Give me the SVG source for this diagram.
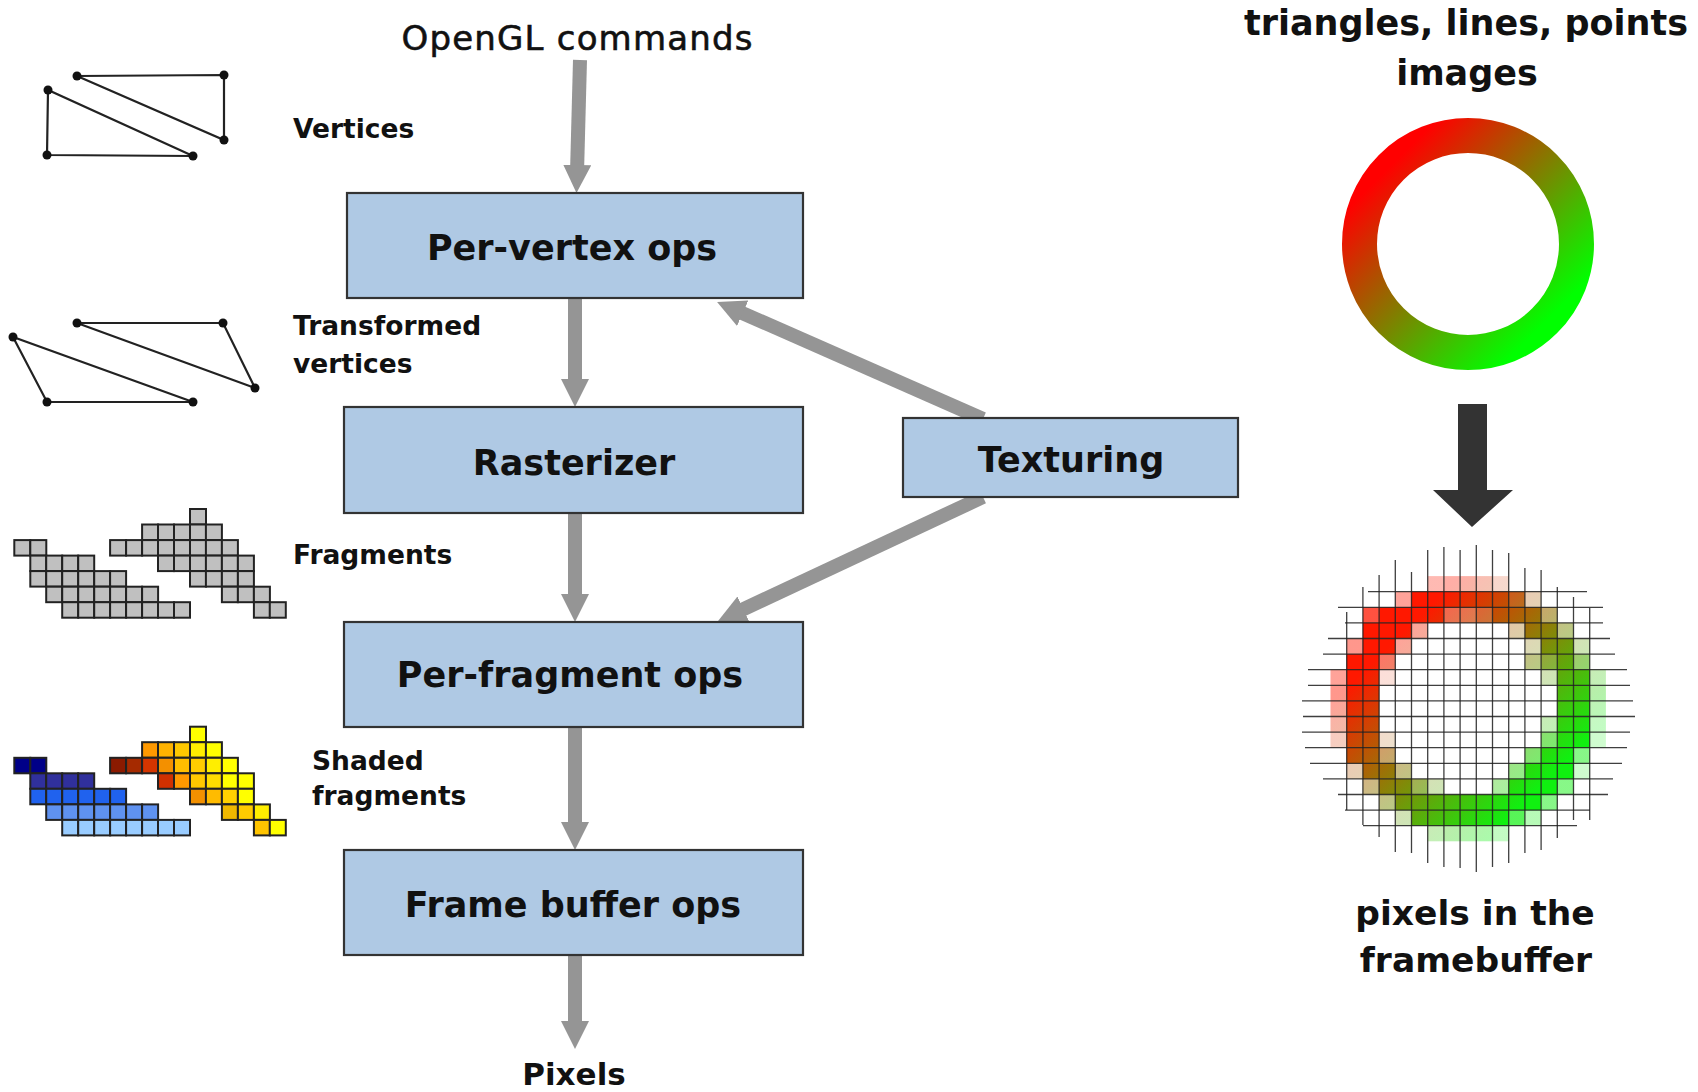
<svg xmlns="http://www.w3.org/2000/svg" xmlns:xlink="http://www.w3.org/1999/xlink" width="1698" height="1092" viewBox="0 0 1698 1092">
  <style>
    .box { fill: #afc9e4; stroke: #333333; stroke-width: 2.2; }
    .lbl { font-family: "DejaVu Sans", "Liberation Sans", sans-serif; font-weight: bold; font-size: 35px; fill: #111111; text-anchor: middle; }
    .side { font-family: "DejaVu Sans", "Liberation Sans", sans-serif; font-weight: bold; font-size: 26.5px; fill: #111111; }
    .title { font-family: "DejaVu Sans", "Liberation Sans", sans-serif; font-size: 34px; fill: #111111; stroke: #111111; stroke-width: 0.6; text-anchor: middle; }
    .flow { stroke: #959595; stroke-width: 14; fill: none; marker-end: url(#head); }
    .wire { stroke: #222222; stroke-width: 2.2; fill: none; }
    .dot { fill: #111111; }
    .frag { stroke: #222222; stroke-width: 2; }
    .grid line { stroke: #1e1e1e; stroke-width: 1.3; opacity: 0.85; }
  </style>
  <defs>
    <marker id="head" markerUnits="userSpaceOnUse" viewBox="0 0 28 28" markerWidth="28" markerHeight="28" refX="1" refY="14" orient="auto">
      <path d="M0,0 L28,14 L0,28 Z" fill="#959595"/>
    </marker>
    <linearGradient id="ringGrad" gradientUnits="userSpaceOnUse" x1="1390" y1="166" x2="1546" y2="322">
      <stop offset="0" stop-color="#ff0000"/>
      <stop offset="1" stop-color="#00ff00"/>
    </linearGradient>
    <linearGradient id="pxGrad" gradientUnits="userSpaceOnUse" x1="1400" y1="635" x2="1545" y2="782">
      <stop offset="0" stop-color="#ff1800"/>
      <stop offset="1" stop-color="#10f010"/>
    </linearGradient>
    <rect id="fc" width="16" height="15.5" class="frag"/>
  </defs>

  <rect width="1698" height="1092" fill="#ffffff"/>

  <!-- pipeline connectors -->
  <g id="connectors">
    <line class="flow" x1="580" y1="60" x2="577.2" y2="166"/>
    <line class="flow" x1="575" y1="298" x2="575" y2="380"/>
    <line class="flow" x1="575" y1="513" x2="575" y2="595"/>
    <line class="flow" x1="575" y1="727" x2="575" y2="823"/>
    <line class="flow" x1="575" y1="955" x2="575" y2="1022"/>
    <line class="flow" x1="983" y1="419" x2="741.8" y2="312.8"/>
    <line class="flow" x1="983" y1="497" x2="742.5" y2="609.6"/>
  </g>

  <!-- pipeline stages -->
  <g id="per-vertex">
    <rect class="box" x="347" y="193" width="456" height="105"/>
    <text class="lbl" x="572" y="260">Per-vertex ops</text>
  </g>
  <g id="rasterizer">
    <rect class="box" x="344" y="407" width="459" height="106"/>
    <text class="lbl" x="574" y="475">Rasterizer</text>
  </g>
  <g id="texturing">
    <rect class="box" x="903" y="418" width="335" height="79"/>
    <text class="lbl" x="1071" y="472">Texturing</text>
  </g>
  <g id="per-fragment">
    <rect class="box" x="344" y="622" width="459" height="105"/>
    <text class="lbl" x="570" y="687">Per-fragment ops</text>
  </g>
  <g id="frame-buffer">
    <rect class="box" x="344" y="850" width="459" height="105"/>
    <text class="lbl" x="573" y="917">Frame buffer ops</text>
  </g>

  <g id="input-label">
    <text class="title" x="577" y="50" textLength="351">OpenGL commands</text>
  </g>
  <g id="output-label">
    <text class="lbl" x="574" y="1085" style="font-size:31px">Pixels</text>
  </g>

  <!-- vertices -->
  <g id="vertices">
    <path class="wire" d="M77,76 L224,75 L224,140 Z M48,90 L47,155 L193,156 Z"/>
    <circle class="dot" cx="77" cy="76" r="4.5"/>
    <circle class="dot" cx="224" cy="75" r="4.5"/>
    <circle class="dot" cx="224" cy="140" r="4.5"/>
    <circle class="dot" cx="48" cy="90" r="4.5"/>
    <circle class="dot" cx="47" cy="155" r="4.5"/>
    <circle class="dot" cx="193" cy="156" r="4.5"/>
    <text class="side" x="293" y="138">Vertices</text>
  </g>

  <!-- transformed vertices -->
  <g id="transformed-vertices">
    <path class="wire" d="M77,323 L223,323 L255,388 Z M13,337 L47,402 L193,402 Z"/>
    <circle class="dot" cx="77" cy="323" r="4.5"/>
    <circle class="dot" cx="223" cy="323" r="4.5"/>
    <circle class="dot" cx="255" cy="388" r="4.5"/>
    <circle class="dot" cx="13" cy="337" r="4.5"/>
    <circle class="dot" cx="47" cy="402" r="4.5"/>
    <circle class="dot" cx="193" cy="402" r="4.5"/>
    <text class="side" x="293" y="335">Transformed</text>
    <text class="side" x="293" y="373">vertices</text>
  </g>

  <!-- fragments -->
  <g id="fragments" fill="#c0c0c0">
    <use xlink:href="#fc" x="190.0" y="509.0"/>
    <use xlink:href="#fc" x="142.1" y="524.5"/><use xlink:href="#fc" x="158.0" y="524.5"/><use xlink:href="#fc" x="174.0" y="524.5"/><use xlink:href="#fc" x="190.0" y="524.5"/><use xlink:href="#fc" x="205.9" y="524.5"/>
    <use xlink:href="#fc" x="14.3" y="540.1"/><use xlink:href="#fc" x="30.3" y="540.1"/>
    <use xlink:href="#fc" x="110.1" y="540.1"/><use xlink:href="#fc" x="126.1" y="540.1"/><use xlink:href="#fc" x="142.1" y="540.1"/><use xlink:href="#fc" x="158.0" y="540.1"/><use xlink:href="#fc" x="174.0" y="540.1"/><use xlink:href="#fc" x="190.0" y="540.1"/><use xlink:href="#fc" x="205.9" y="540.1"/><use xlink:href="#fc" x="221.9" y="540.1"/>
    <use xlink:href="#fc" x="30.3" y="555.6"/><use xlink:href="#fc" x="46.2" y="555.6"/><use xlink:href="#fc" x="62.2" y="555.6"/><use xlink:href="#fc" x="78.2" y="555.6"/>
    <use xlink:href="#fc" x="158.0" y="555.6"/><use xlink:href="#fc" x="174.0" y="555.6"/><use xlink:href="#fc" x="190.0" y="555.6"/><use xlink:href="#fc" x="205.9" y="555.6"/><use xlink:href="#fc" x="221.9" y="555.6"/><use xlink:href="#fc" x="237.9" y="555.6"/>
    <use xlink:href="#fc" x="30.3" y="571.1"/><use xlink:href="#fc" x="46.2" y="571.1"/><use xlink:href="#fc" x="62.2" y="571.1"/><use xlink:href="#fc" x="78.2" y="571.1"/><use xlink:href="#fc" x="94.2" y="571.1"/><use xlink:href="#fc" x="110.1" y="571.1"/>
    <use xlink:href="#fc" x="190.0" y="571.1"/><use xlink:href="#fc" x="205.9" y="571.1"/><use xlink:href="#fc" x="221.9" y="571.1"/><use xlink:href="#fc" x="237.9" y="571.1"/>
    <use xlink:href="#fc" x="46.2" y="586.7"/><use xlink:href="#fc" x="62.2" y="586.7"/><use xlink:href="#fc" x="78.2" y="586.7"/><use xlink:href="#fc" x="94.2" y="586.7"/><use xlink:href="#fc" x="110.1" y="586.7"/><use xlink:href="#fc" x="126.1" y="586.7"/><use xlink:href="#fc" x="142.1" y="586.7"/>
    <use xlink:href="#fc" x="221.9" y="586.7"/><use xlink:href="#fc" x="237.9" y="586.7"/><use xlink:href="#fc" x="253.9" y="586.7"/>
    <use xlink:href="#fc" x="62.2" y="602.2"/><use xlink:href="#fc" x="78.2" y="602.2"/><use xlink:href="#fc" x="94.2" y="602.2"/><use xlink:href="#fc" x="110.1" y="602.2"/><use xlink:href="#fc" x="126.1" y="602.2"/><use xlink:href="#fc" x="142.1" y="602.2"/><use xlink:href="#fc" x="158.0" y="602.2"/><use xlink:href="#fc" x="174.0" y="602.2"/>
    <use xlink:href="#fc" x="253.9" y="602.2"/><use xlink:href="#fc" x="269.8" y="602.2"/>
    <text class="side" x="293" y="564" fill="#111111">Fragments</text>
  </g>

  <!-- shaded fragments -->
  <g id="shaded-fragments">
    <use xlink:href="#fc" x="190.0" y="726.7" fill="#ffff00"/>
    <use xlink:href="#fc" x="142.1" y="742.2" fill="#ff9900"/><use xlink:href="#fc" x="158.0" y="742.2" fill="#ffb300"/><use xlink:href="#fc" x="174.0" y="742.2" fill="#ffc800"/><use xlink:href="#fc" x="190.0" y="742.2" fill="#ffee00"/><use xlink:href="#fc" x="205.9" y="742.2" fill="#ffff00"/>
    <use xlink:href="#fc" x="14.3" y="757.8" fill="#000088"/><use xlink:href="#fc" x="30.3" y="757.8" fill="#000088"/>
    <use xlink:href="#fc" x="110.1" y="757.8" fill="#8b1a00"/><use xlink:href="#fc" x="126.1" y="757.8" fill="#a52a00"/><use xlink:href="#fc" x="142.1" y="757.8" fill="#d43500"/><use xlink:href="#fc" x="158.0" y="757.8" fill="#f39000"/><use xlink:href="#fc" x="174.0" y="757.8" fill="#ffbe00"/><use xlink:href="#fc" x="190.0" y="757.8" fill="#ffcc00"/><use xlink:href="#fc" x="205.9" y="757.8" fill="#ffee00"/><use xlink:href="#fc" x="221.9" y="757.8" fill="#ffff00"/>
    <use xlink:href="#fc" x="30.3" y="773.3" fill="#30309c"/><use xlink:href="#fc" x="46.2" y="773.3" fill="#30309c"/><use xlink:href="#fc" x="62.2" y="773.3" fill="#30309c"/><use xlink:href="#fc" x="78.2" y="773.3" fill="#30309c"/>
    <use xlink:href="#fc" x="158.0" y="773.3" fill="#d03000"/><use xlink:href="#fc" x="174.0" y="773.3" fill="#ff9900"/><use xlink:href="#fc" x="190.0" y="773.3" fill="#ffc800"/><use xlink:href="#fc" x="205.9" y="773.3" fill="#ffdd00"/><use xlink:href="#fc" x="221.9" y="773.3" fill="#ffff00"/><use xlink:href="#fc" x="237.9" y="773.3" fill="#ffff00"/>
    <use xlink:href="#fc" x="30.3" y="788.8" fill="#2062ee"/><use xlink:href="#fc" x="46.2" y="788.8" fill="#2062ee"/><use xlink:href="#fc" x="62.2" y="788.8" fill="#2062ee"/><use xlink:href="#fc" x="78.2" y="788.8" fill="#2062ee"/><use xlink:href="#fc" x="94.2" y="788.8" fill="#2062ee"/><use xlink:href="#fc" x="110.1" y="788.8" fill="#2062ee"/>
    <use xlink:href="#fc" x="190.0" y="788.8" fill="#f29000"/><use xlink:href="#fc" x="205.9" y="788.8" fill="#ffbb00"/><use xlink:href="#fc" x="221.9" y="788.8" fill="#ffd000"/><use xlink:href="#fc" x="237.9" y="788.8" fill="#ffff00"/>
    <use xlink:href="#fc" x="46.2" y="804.4" fill="#5f92f0"/><use xlink:href="#fc" x="62.2" y="804.4" fill="#5f92f0"/><use xlink:href="#fc" x="78.2" y="804.4" fill="#5f92f0"/><use xlink:href="#fc" x="94.2" y="804.4" fill="#5f92f0"/><use xlink:href="#fc" x="110.1" y="804.4" fill="#5f92f0"/><use xlink:href="#fc" x="126.1" y="804.4" fill="#5f92f0"/><use xlink:href="#fc" x="142.1" y="804.4" fill="#5f92f0"/>
    <use xlink:href="#fc" x="221.9" y="804.4" fill="#f0b800"/><use xlink:href="#fc" x="237.9" y="804.4" fill="#ffcc00"/><use xlink:href="#fc" x="253.9" y="804.4" fill="#ffee00"/>
    <use xlink:href="#fc" x="62.2" y="819.9" fill="#99ccff"/><use xlink:href="#fc" x="78.2" y="819.9" fill="#99ccff"/><use xlink:href="#fc" x="94.2" y="819.9" fill="#99ccff"/><use xlink:href="#fc" x="110.1" y="819.9" fill="#99ccff"/><use xlink:href="#fc" x="126.1" y="819.9" fill="#99ccff"/><use xlink:href="#fc" x="142.1" y="819.9" fill="#99ccff"/><use xlink:href="#fc" x="158.0" y="819.9" fill="#99ccff"/><use xlink:href="#fc" x="174.0" y="819.9" fill="#99ccff"/>
    <use xlink:href="#fc" x="253.9" y="819.9" fill="#ffc400"/><use xlink:href="#fc" x="269.8" y="819.9" fill="#ffff00"/>
    <text class="side" x="312" y="770">Shaded</text>
    <text class="side" x="312" y="805">fragments</text>
  </g>

  <!-- primitives: smooth ring -->
  <g id="primitives">
    <text class="lbl" x="1466" y="35">triangles, lines, points</text>
    <text class="lbl" x="1467" y="85">images</text>
    <circle cx="1468" cy="244" r="108.5" fill="none" stroke="url(#ringGrad)" stroke-width="35"/>
  </g>

  <!-- rasterisation arrow -->
  <g id="raster-arrow">
    <path d="M1458,404 H1487 V490 H1513 L1472,527 L1433,490 H1458 Z" fill="#333333"/>
  </g>

  <!-- pixels in the framebuffer -->
  <g id="framebuffer-pixels">
    <g fill="url(#pxGrad)">
      <!-- row 0 -->
      <rect width="16.2" height="15.6" x="1427.7" y="576.1" opacity="0.3"/><rect width="16.2" height="15.6" x="1443.9" y="576.1" opacity="0.35"/><rect width="16.2" height="15.6" x="1460.1" y="576.1" opacity="0.35"/><rect width="16.2" height="15.6" x="1476.3" y="576.1" opacity="0.3"/><rect width="16.2" height="15.6" x="1492.5" y="576.1" opacity="0.2"/>
      <!-- row 1 -->
      <rect width="16.2" height="15.6" x="1395.3" y="591.7" opacity="0.4"/><rect width="16.2" height="15.6" x="1411.5" y="591.7"/><rect width="16.2" height="15.6" x="1427.7" y="591.7"/><rect width="16.2" height="15.6" x="1443.9" y="591.7"/><rect width="16.2" height="15.6" x="1460.1" y="591.7"/><rect width="16.2" height="15.6" x="1476.3" y="591.7"/><rect width="16.2" height="15.6" x="1492.5" y="591.7"/><rect width="16.2" height="15.6" x="1508.7" y="591.7" opacity="0.9"/><rect width="16.2" height="15.6" x="1524.9" y="591.7" opacity="0.3"/>
      <!-- row 2 -->
      <rect width="16.2" height="15.6" x="1362.9" y="607.3" opacity="0.75"/><rect width="16.2" height="15.6" x="1379.1" y="607.3"/><rect width="16.2" height="15.6" x="1395.3" y="607.3"/><rect width="16.2" height="15.6" x="1411.5" y="607.3"/><rect width="16.2" height="15.6" x="1427.7" y="607.3"/><rect width="16.2" height="15.6" x="1443.9" y="607.3" opacity="0.7"/><rect width="16.2" height="15.6" x="1460.1" y="607.3" opacity="0.7"/><rect width="16.2" height="15.6" x="1476.3" y="607.3" opacity="0.8"/><rect width="16.2" height="15.6" x="1492.5" y="607.3"/><rect width="16.2" height="15.6" x="1508.7" y="607.3"/><rect width="16.2" height="15.6" x="1524.9" y="607.3"/><rect width="16.2" height="15.6" x="1541.1" y="607.3" opacity="0.6"/>
      <!-- row 3 -->
      <rect width="16.2" height="15.6" x="1362.9" y="622.9"/><rect width="16.2" height="15.6" x="1379.1" y="622.9"/><rect width="16.2" height="15.6" x="1395.3" y="622.9"/><rect width="16.2" height="15.6" x="1411.5" y="622.9" opacity="0.4"/><rect width="16.2" height="15.6" x="1508.7" y="622.9" opacity="0.35"/><rect width="16.2" height="15.6" x="1524.9" y="622.9"/><rect width="16.2" height="15.6" x="1541.1" y="622.9"/><rect width="16.2" height="15.6" x="1557.3" y="622.9" opacity="0.5"/>
      <!-- row 4 -->
      <rect width="16.2" height="15.6" x="1346.7" y="638.5" opacity="0.45"/><rect width="16.2" height="15.6" x="1362.9" y="638.5"/><rect width="16.2" height="15.6" x="1379.1" y="638.5"/><rect width="16.2" height="15.6" x="1395.3" y="638.5" opacity="0.4"/><rect width="16.2" height="15.6" x="1524.9" y="638.5" opacity="0.3"/><rect width="16.2" height="15.6" x="1541.1" y="638.5"/><rect width="16.2" height="15.6" x="1557.3" y="638.5"/><rect width="16.2" height="15.6" x="1573.5" y="638.5" opacity="0.3"/>
      <!-- row 5 -->
      <rect width="16.2" height="15.6" x="1346.7" y="654.1"/><rect width="16.2" height="15.6" x="1362.9" y="654.1"/><rect width="16.2" height="15.6" x="1379.1" y="654.1" opacity="0.6"/><rect width="16.2" height="15.6" x="1524.9" y="654.1" opacity="0.5"/><rect width="16.2" height="15.6" x="1541.1" y="654.1" opacity="0.8"/><rect width="16.2" height="15.6" x="1557.3" y="654.1"/><rect width="16.2" height="15.6" x="1573.5" y="654.1" opacity="0.6"/>
      <!-- row 6 -->
      <rect width="16.2" height="15.6" x="1330.5" y="669.7" opacity="0.4"/><rect width="16.2" height="15.6" x="1346.7" y="669.7"/><rect width="16.2" height="15.6" x="1362.9" y="669.7"/><rect width="16.2" height="15.6" x="1379.1" y="669.7" opacity="0.15"/><rect width="16.2" height="15.6" x="1541.1" y="669.7" opacity="0.3"/><rect width="16.2" height="15.6" x="1557.3" y="669.7"/><rect width="16.2" height="15.6" x="1573.5" y="669.7"/><rect width="16.2" height="15.6" x="1589.7" y="669.7" opacity="0.3"/>
      <!-- row 7 -->
      <rect width="16.2" height="15.6" x="1330.5" y="685.3" opacity="0.45"/><rect width="16.2" height="15.6" x="1346.7" y="685.3"/><rect width="16.2" height="15.6" x="1362.9" y="685.3"/><rect width="16.2" height="15.6" x="1557.3" y="685.3"/><rect width="16.2" height="15.6" x="1573.5" y="685.3"/><rect width="16.2" height="15.6" x="1589.7" y="685.3" opacity="0.35"/>
      <!-- row 8 -->
      <rect width="16.2" height="15.6" x="1330.5" y="700.9" opacity="0.4"/><rect width="16.2" height="15.6" x="1346.7" y="700.9"/><rect width="16.2" height="15.6" x="1362.9" y="700.9"/><rect width="16.2" height="15.6" x="1557.3" y="700.9"/><rect width="16.2" height="15.6" x="1573.5" y="700.9"/><rect width="16.2" height="15.6" x="1589.7" y="700.9" opacity="0.3"/>
      <!-- row 9 -->
      <rect width="16.2" height="15.6" x="1330.5" y="716.5" opacity="0.35"/><rect width="16.2" height="15.6" x="1346.7" y="716.5"/><rect width="16.2" height="15.6" x="1362.9" y="716.5"/><rect width="16.2" height="15.6" x="1541.1" y="716.5" opacity="0.3"/><rect width="16.2" height="15.6" x="1557.3" y="716.5"/><rect width="16.2" height="15.6" x="1573.5" y="716.5"/><rect width="16.2" height="15.6" x="1589.7" y="716.5" opacity="0.25"/>
      <!-- row 10 -->
      <rect width="16.2" height="15.6" x="1330.5" y="732.1" opacity="0.25"/><rect width="16.2" height="15.6" x="1346.7" y="732.1"/><rect width="16.2" height="15.6" x="1362.9" y="732.1"/><rect width="16.2" height="15.6" x="1379.1" y="732.1" opacity="0.2"/><rect width="16.2" height="15.6" x="1541.1" y="732.1" opacity="0.6"/><rect width="16.2" height="15.6" x="1557.3" y="732.1"/><rect width="16.2" height="15.6" x="1573.5" y="732.1"/><rect width="16.2" height="15.6" x="1589.7" y="732.1" opacity="0.2"/>
      <!-- row 11 -->
      <rect width="16.2" height="15.6" x="1346.7" y="747.7"/><rect width="16.2" height="15.6" x="1362.9" y="747.7"/><rect width="16.2" height="15.6" x="1379.1" y="747.7" opacity="0.6"/><rect width="16.2" height="15.6" x="1524.9" y="747.7" opacity="0.6"/><rect width="16.2" height="15.6" x="1541.1" y="747.7"/><rect width="16.2" height="15.6" x="1557.3" y="747.7"/><rect width="16.2" height="15.6" x="1573.5" y="747.7" opacity="0.5"/>
      <!-- row 12 -->
      <rect width="16.2" height="15.6" x="1346.7" y="763.3" opacity="0.3"/><rect width="16.2" height="15.6" x="1362.9" y="763.3"/><rect width="16.2" height="15.6" x="1379.1" y="763.3"/><rect width="16.2" height="15.6" x="1395.3" y="763.3" opacity="0.5"/><rect width="16.2" height="15.6" x="1508.7" y="763.3" opacity="0.5"/><rect width="16.2" height="15.6" x="1524.9" y="763.3"/><rect width="16.2" height="15.6" x="1541.1" y="763.3"/><rect width="16.2" height="15.6" x="1557.3" y="763.3"/><rect width="16.2" height="15.6" x="1573.5" y="763.3" opacity="0.2"/>
      <!-- row 13 -->
      <rect width="16.2" height="15.6" x="1362.9" y="778.9" opacity="0.5"/><rect width="16.2" height="15.6" x="1379.1" y="778.9"/><rect width="16.2" height="15.6" x="1395.3" y="778.9"/><rect width="16.2" height="15.6" x="1411.5" y="778.9" opacity="0.7"/><rect width="16.2" height="15.6" x="1427.7" y="778.9" opacity="0.3"/><rect width="16.2" height="15.6" x="1492.5" y="778.9" opacity="0.4"/><rect width="16.2" height="15.6" x="1508.7" y="778.9"/><rect width="16.2" height="15.6" x="1524.9" y="778.9"/><rect width="16.2" height="15.6" x="1541.1" y="778.9"/><rect width="16.2" height="15.6" x="1557.3" y="778.9" opacity="0.5"/>
      <!-- row 14 -->
      <rect width="16.2" height="15.6" x="1379.1" y="794.5" opacity="0.5"/><rect width="16.2" height="15.6" x="1395.3" y="794.5"/><rect width="16.2" height="15.6" x="1411.5" y="794.5"/><rect width="16.2" height="15.6" x="1427.7" y="794.5"/><rect width="16.2" height="15.6" x="1443.9" y="794.5"/><rect width="16.2" height="15.6" x="1460.1" y="794.5"/><rect width="16.2" height="15.6" x="1476.3" y="794.5"/><rect width="16.2" height="15.6" x="1492.5" y="794.5"/><rect width="16.2" height="15.6" x="1508.7" y="794.5"/><rect width="16.2" height="15.6" x="1524.9" y="794.5"/><rect width="16.2" height="15.6" x="1541.1" y="794.5" opacity="0.5"/>
      <!-- row 15 -->
      <rect width="16.2" height="15.6" x="1395.3" y="810.1" opacity="0.3"/><rect width="16.2" height="15.6" x="1411.5" y="810.1"/><rect width="16.2" height="15.6" x="1427.7" y="810.1"/><rect width="16.2" height="15.6" x="1443.9" y="810.1"/><rect width="16.2" height="15.6" x="1460.1" y="810.1"/><rect width="16.2" height="15.6" x="1476.3" y="810.1"/><rect width="16.2" height="15.6" x="1492.5" y="810.1"/><rect width="16.2" height="15.6" x="1508.7" y="810.1" opacity="0.7"/><rect width="16.2" height="15.6" x="1524.9" y="810.1" opacity="0.3"/>
      <!-- row 16 -->
      <rect width="16.2" height="15.6" x="1427.7" y="825.7" opacity="0.3"/><rect width="16.2" height="15.6" x="1443.9" y="825.7" opacity="0.35"/><rect width="16.2" height="15.6" x="1460.1" y="825.7" opacity="0.35"/><rect width="16.2" height="15.6" x="1476.3" y="825.7" opacity="0.35"/><rect width="16.2" height="15.6" x="1492.5" y="825.7" opacity="0.25"/>
    </g>
    <g class="grid">
      <!-- vertical rules -->
      <line x1="1346.7" y1="612" x2="1346.7" y2="810"/>
      <line x1="1362.9" y1="587" x2="1362.9" y2="825"/>
      <line x1="1379.1" y1="575" x2="1379.1" y2="837"/>
      <line x1="1395.3" y1="560" x2="1395.3" y2="852"/>
      <line x1="1411.5" y1="572" x2="1411.5" y2="853"/>
      <line x1="1427.7" y1="550" x2="1427.7" y2="863"/>
      <line x1="1443.9" y1="547" x2="1443.9" y2="867"/>
      <line x1="1460.1" y1="550" x2="1460.1" y2="868"/>
      <line x1="1476.3" y1="545" x2="1476.3" y2="872"/>
      <line x1="1492.5" y1="550" x2="1492.5" y2="867"/>
      <line x1="1508.7" y1="553" x2="1508.7" y2="863"/>
      <line x1="1524.9" y1="568" x2="1524.9" y2="853"/>
      <line x1="1541.1" y1="570" x2="1541.1" y2="850"/>
      <line x1="1557.3" y1="587" x2="1557.3" y2="838"/>
      <line x1="1573.5" y1="597" x2="1573.5" y2="820"/>
      <line x1="1589.7" y1="608" x2="1589.7" y2="820"/>
      <!-- horizontal rules -->
      <line x1="1368" y1="591.7" x2="1587" y2="591.7"/>
      <line x1="1338" y1="607.3" x2="1603" y2="607.3"/>
      <line x1="1345" y1="622.9" x2="1603" y2="622.9"/>
      <line x1="1328" y1="638.5" x2="1610" y2="638.5"/>
      <line x1="1323" y1="654.1" x2="1615" y2="654.1"/>
      <line x1="1308" y1="669.7" x2="1627" y2="669.7"/>
      <line x1="1308" y1="685.3" x2="1630" y2="685.3"/>
      <line x1="1302" y1="700.9" x2="1633" y2="700.9"/>
      <line x1="1303" y1="716.5" x2="1635" y2="716.5"/>
      <line x1="1302" y1="732.1" x2="1630" y2="732.1"/>
      <line x1="1305" y1="747.7" x2="1627" y2="747.7"/>
      <line x1="1310" y1="763.3" x2="1622" y2="763.3"/>
      <line x1="1323" y1="778.9" x2="1613" y2="778.9"/>
      <line x1="1338" y1="794.5" x2="1608" y2="794.5"/>
      <line x1="1345" y1="810.1" x2="1590" y2="810.1"/>
      <line x1="1363" y1="825.7" x2="1577" y2="825.7"/>
    </g>
    <text class="lbl" x="1475" y="925" style="font-size:34.5px">pixels in the</text>
    <text class="lbl" x="1476" y="972" style="font-size:34.5px">framebuffer</text>
  </g>
</svg>
